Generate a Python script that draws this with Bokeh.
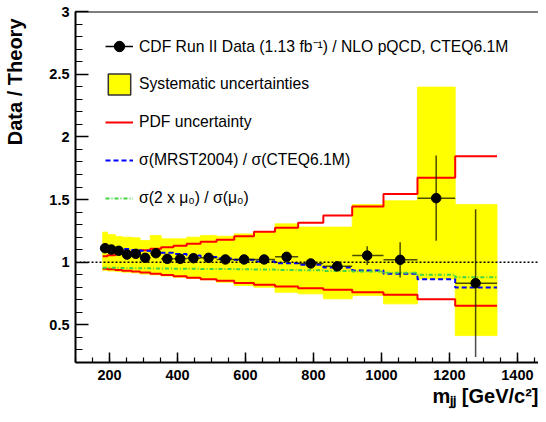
import math
from bokeh.plotting import figure
from bokeh.models import (Range1d, SingleIntervalTicker, CustomJSTickFormatter, Span,
                          Legend, LegendItem, Title)
from bokeh.embed import file_html
from bokeh.resources import INLINE

# ---------------- data ----------------
bin_edges = [180, 194, 217, 237, 265, 290, 320, 352, 388, 427, 468, 515, 567, 625,
             687, 755, 829, 914, 1006, 1106, 1217, 1340]
mjj = [187, 205.5, 227, 251.5, 277.5, 305, 336.5, 370, 408, 447, 491.5, 541, 596,
       655, 721, 792, 870, 958, 1055, 1161, 1277]
ratio = [1.112, 1.101, 1.091, 1.061, 1.067, 1.035, 1.072, 1.027, 1.027, 1.032, 1.035,
         1.022, 1.022, 1.022, 1.043, 0.990, 0.967, 1.053, 1.019, 1.511, 0.833]
stat_err = [0.01, 0.01, 0.01, 0.01, 0.01, 0.01, 0.01, 0.01, 0.01, 0.01, 0.012,
            0.013, 0.015, 0.018, 0.025, 0.03, 0.033, 0.075, 0.14, 0.34, 0.59]
sys_hi = [1.24, 1.22, 1.205, 1.2, 1.195, 1.173, 1.213, 1.187, 1.187, 1.2, 1.213,
          1.207, 1.226, 1.245, 1.306, 1.28, 1.28, 1.46, 1.49, 2.397, 1.46]
sys_lo = [0.935, 0.93, 0.925, 0.92, 0.915, 0.905, 0.9, 0.89, 0.88, 0.87, 0.86,
          0.84, 0.814, 0.80, 0.76, 0.748, 0.708, 0.734, 0.668, 0.867, 0.415]
pdf_hi = [1.048, 1.055, 1.065, 1.075, 1.085, 1.095, 1.107, 1.12, 1.132, 1.148, 1.163,
          1.18, 1.207, 1.243, 1.275, 1.315, 1.373, 1.444, 1.545, 1.673, 1.846]
pdf_lo = [0.947, 0.943, 0.938, 0.932, 0.925, 0.917, 0.908, 0.898, 0.888, 0.876, 0.865,
          0.853, 0.835, 0.82, 0.806, 0.793, 0.78, 0.761, 0.74, 0.705, 0.652]
mrst_ratio = [1.125, 1.118, 1.112, 1.105, 1.098, 1.092, 1.085, 1.075, 1.065, 1.053, 1.042,
              1.03, 1.02, 1.006, 0.992, 0.979, 0.958, 0.934, 0.907, 0.865, 0.798]
scale_ratio = [0.955, 0.955, 0.954, 0.953, 0.952, 0.951, 0.95, 0.949, 0.948, 0.947, 0.946,
               0.945, 0.943, 0.941, 0.938, 0.935, 0.93, 0.925, 0.915, 0.9, 0.88]

legend_labels = ["CDF Run II Data (1.13 fb\u207b\u00b9) / NLO pQCD, CTEQ6.1M",
                 "Systematic uncertainties",
                 "PDF uncertainty",
                 "\u03c3(MRST2004) / \u03c3(CTEQ6.1M)",
                 "\u03c3(2 x \u03bc\u2080) / \u03c3(\u03bc\u2080)"]
y_title = "Data / Theory"
x_title = "m\u2c7c\u2c7c [GeV/c\u00b2]"

FONT = "Liberation Sans"
NAN = float("nan")

bin_lo = bin_edges[:-1]
bin_hi = bin_edges[1:]
err_lo = [r - e for r, e in zip(ratio, stat_err)]
err_hi = [r + e for r, e in zip(ratio, stat_err)]

def steps(vals):
    return vals + [vals[-1]]

X0, X1, Y0, Y1 = 100, 1462, 0.2, 3.0
p = figure(width=538, height=414, output_backend="svg", toolbar_location=None,
           x_range=Range1d(X0, X1), y_range=Range1d(Y0, Y1),
           min_border_left=75, min_border_right=0, min_border_top=11, min_border_bottom=52)
p.outline_line_color = None
p.xgrid.visible = False
p.ygrid.visible = False

xa, ya = p.xaxis[0], p.yaxis[0]

# axes styling
xa.ticker = SingleIntervalTicker(interval=200, num_minor_ticks=4)
ya.ticker = SingleIntervalTicker(interval=0.5, num_minor_ticks=5)
ya.formatter = CustomJSTickFormatter(code="return String(Math.round(tick*10)/10);")
for ax in (xa, ya):
    ax.axis_line_width = 2
    ax.axis_line_color = "black"
    ax.major_tick_out = 0
    ax.minor_tick_out = 0
    ax.major_tick_line_width = 1.5
    ax.minor_tick_line_width = 1.2
    ax.major_label_text_font = FONT
    ax.major_label_text_font_style = "bold"
    ax.major_label_text_font_size = "14.5px"
    ax.major_label_text_color = "black"
xa.major_tick_in = 10
xa.minor_tick_in = 5
xa.major_label_standoff = 7
ya.major_tick_in = 13
ya.minor_tick_in = 7
ya.major_label_standoff = 6
# blank, tiny axis label: only reserves a gap between tick labels and the y title
ya.axis_label = " "
ya.axis_label_text_font_size = "2px"
ya.axis_label_standoff = 16

# axis titles at the axis ends (ROOT style)
p.add_layout(Title(text=y_title, align="right", text_font=FONT, text_font_style="bold",
                   text_font_size="20px", text_color="black", standoff=0, offset=7), "left")
p.add_layout(Title(text=x_title, align="right", text_font=FONT, text_font_style="bold",
                   text_font_size="20px", text_color="black", standoff=0), "below")

# top frame line
p.add_layout(Span(location=Y1, dimension="width", line_color="black", line_width=2))

# systematic band
p.quad(left=bin_lo, right=bin_hi, bottom=sys_lo, top=sys_hi,
       fill_color="#ffff00", line_color="#ffff00", line_width=0.8)

# PDF uncertainty
p.step(x=bin_edges, y=steps(pdf_hi), mode="after", line_color="#ff0000", line_width=2)
p.step(x=bin_edges, y=steps(pdf_lo), mode="after", line_color="#ff0000", line_width=2)
# MRST / CTEQ
p.step(x=bin_edges, y=steps(mrst_ratio), mode="after", line_color="#0000ff",
       line_width=2, line_dash="5 3")
# scale variation
p.step(x=bin_edges, y=steps(scale_ratio), mode="after", line_color="#44d444",
       line_width=2, line_dash="4 2 1 2")

# reference line at 1
p.add_layout(Span(location=1.0, dimension="width", line_color="black",
                  line_width=1.5, line_dash="2 2"))

# data with errors
p.segment(x0=bin_lo, y0=ratio, x1=bin_hi, y1=ratio, line_color="black",
          line_alpha=0.7, line_width=1.5)
p.segment(x0=mjj, y0=err_lo, x1=mjj, y1=err_hi, line_color="black",
          line_alpha=0.7, line_width=1.5)
pts = p.scatter(x=mjj, y=ratio, size=9.5, color="black")

# legend-only renderers (a single NaN point so that their glyphs are drawn in the legend)
leg_line = p.line(x=[NAN], y=[NAN], line_color="black", line_width=1.5)
leg_box = p.quad(left=[NAN], right=[NAN], bottom=[NAN], top=[NAN], fill_color="#ffff00",
                 line_color="#333333", line_width=1.5)
leg_pdf = p.line(x=[NAN], y=[NAN], line_color="#ff0000", line_width=2)
leg_mrst = p.line(x=[NAN], y=[NAN], line_color="#0000ff", line_width=2, line_dash="5 3")
leg_scale = p.line(x=[NAN], y=[NAN], line_color="#44d444", line_width=2, line_dash="4 2 1 2")

legend = Legend(items=[
    LegendItem(label=legend_labels[0], renderers=[leg_line, pts]),
    LegendItem(label=legend_labels[1], renderers=[leg_box]),
    LegendItem(label=legend_labels[2], renderers=[leg_pdf]),
    LegendItem(label=legend_labels[3], renderers=[leg_mrst]),
    LegendItem(label=legend_labels[4], renderers=[leg_scale]),
], location=(30, 151), padding=0, margin=0, spacing=12, glyph_width=28, glyph_height=26,
    label_height=26, label_standoff=6, border_line_color=None, background_fill_alpha=0,
    label_text_font=FONT, label_text_font_size="15.7px", label_text_color="black")
p.add_layout(legend)

open("out.html", "w").write(file_html(p, INLINE))
